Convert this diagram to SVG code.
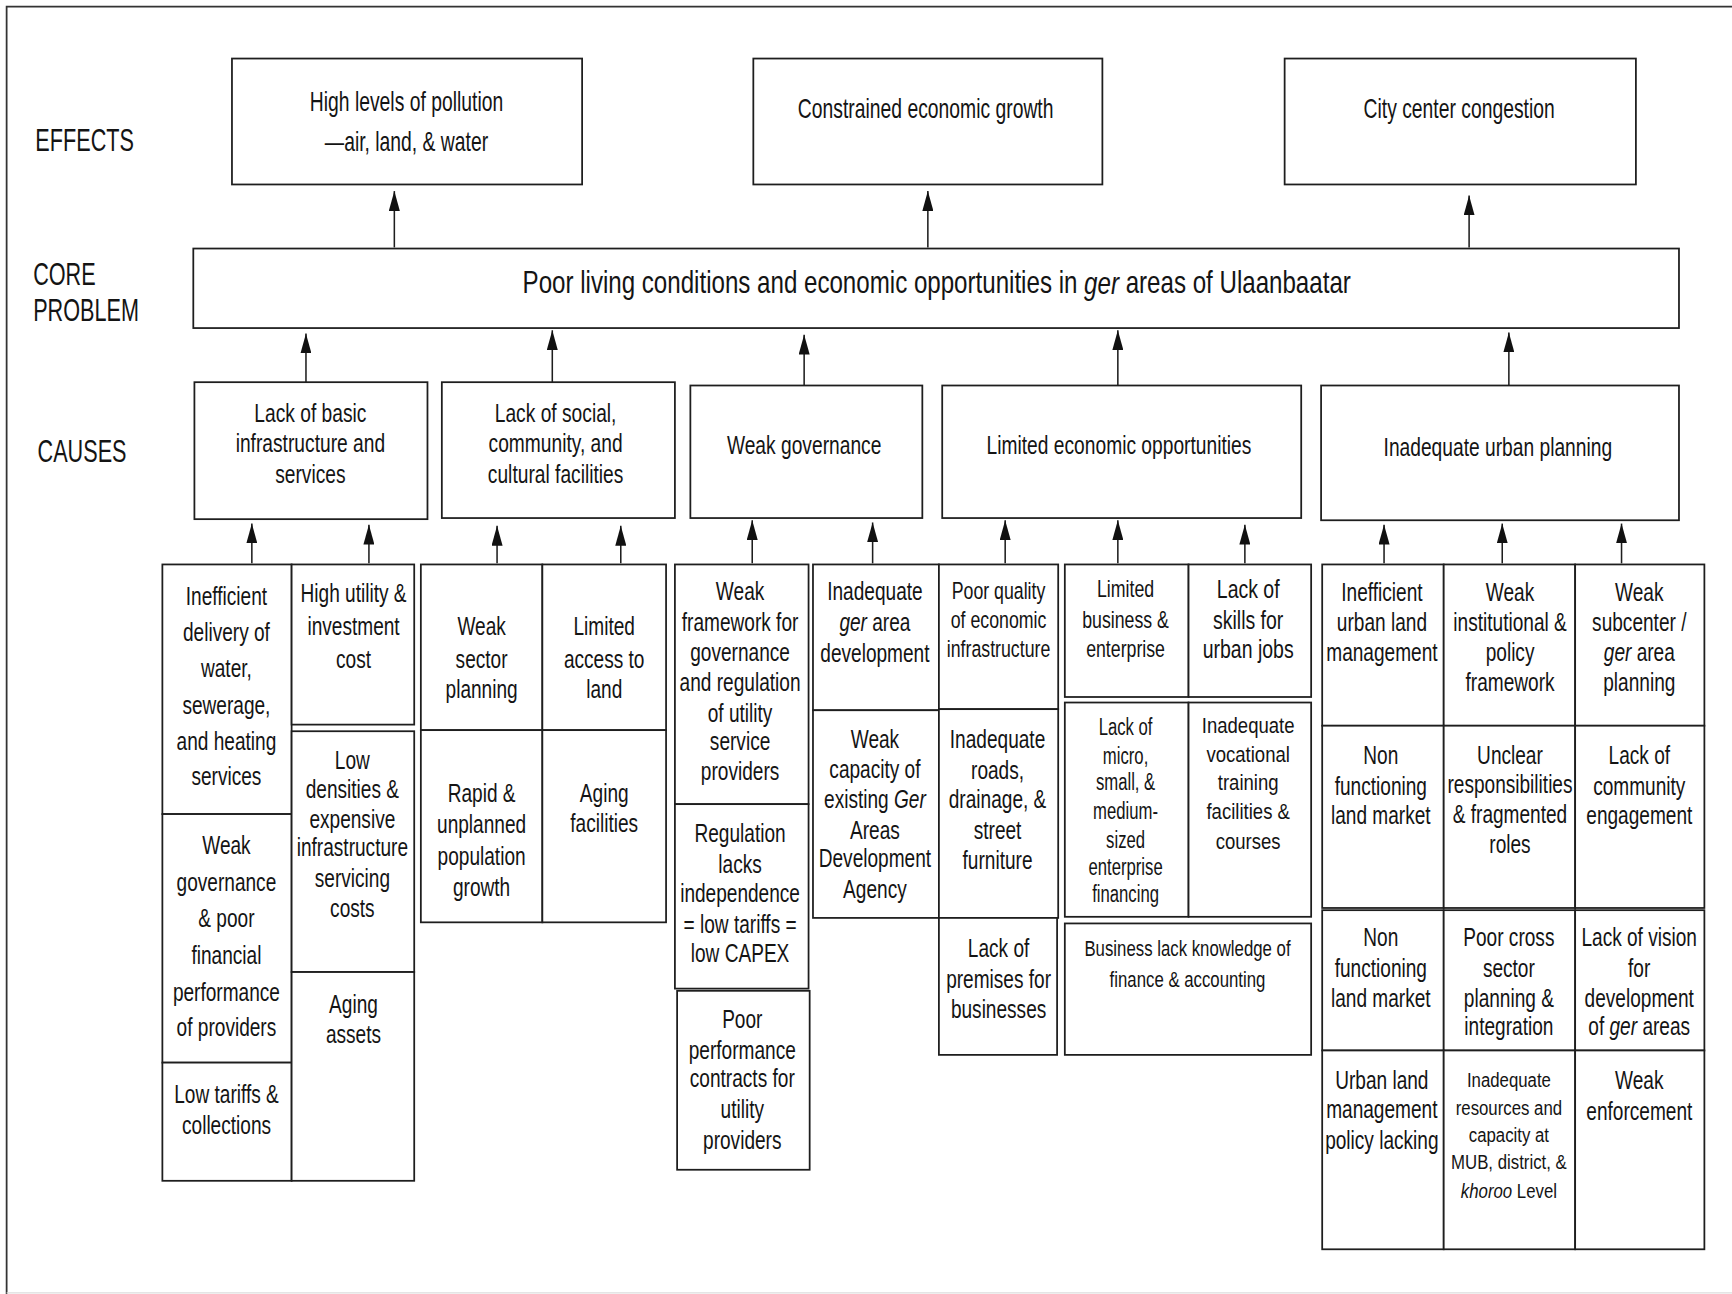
<svg xmlns="http://www.w3.org/2000/svg" width="1732" height="1294" viewBox="0 0 1732 1294">
<style>
.b{fill:#fff;stroke:#1e1e1e;stroke-width:1.6}
.t{font-family:"Liberation Sans",Arial,sans-serif;font-size:24px;text-anchor:middle;dominant-baseline:central;fill:#141414;transform-box:fill-box;transform-origin:50% 50%;transform:scaleX(0.72)}
.s{font-size:25px;transform:scaleX(0.70)}
.ca{font-size:23.5px;transform:scaleX(0.74)}
.s2{font-size:22px;transform:scaleX(0.73)}
.w2{font-size:22.6px;transform:scaleX(0.78)}
.d2a{font-size:21.6px;transform:scaleX(0.70)}
.d2b{font-size:20px;transform:scaleX(0.84)}
.d3{font-size:20px;transform:scaleX(0.76)}
.xs{font-size:19px;transform:scaleX(0.8)}
.lbl{font-family:"Liberation Sans",Arial,sans-serif;font-size:28px;fill:#141414;dominant-baseline:central;transform-box:fill-box;transform-origin:0% 50%;transform:scaleX(0.7)}
.c{stroke:#1e1e1e;stroke-width:1.4;fill:none}
.i{font-style:italic}
</style>
<defs>
<marker id="ah" viewBox="0 0 18 10" refX="18" refY="5" markerWidth="18" markerHeight="10" markerUnits="userSpaceOnUse" orient="auto">
<path d="M0,0 L18,5 L0,10 Z" fill="#111"/>
</marker>
</defs>
<rect x="0" y="0" width="1732" height="1294" fill="#fff"/>
<g transform="scale(1.10459)">
<path d="M6,1175 V6 H1570" fill="none" stroke="#333" stroke-width="1.6"/>
<path d="M6,1170.5 H1570" fill="none" stroke="#ddd" stroke-width="1.2"/>

<g id="labels">
<text class="lbl" x="32" y="127">EFFECTS</text>
<text class="lbl" x="30" y="249">CORE</text>
<text class="lbl" x="30" y="281">PROBLEM</text>
<text class="lbl" x="34" y="409">CAUSES</text>
</g>

<g id="effect-pollution"><rect class="b" x="210" y="53" width="317" height="114"/>
<text class="t s" x="368"><tspan x="368" y="91">High levels of pollution</tspan><tspan x="368" y="127">—air, land, &amp; water</tspan></text></g>
<g id="effect-growth"><rect class="b" x="682" y="53" width="316" height="114"/>
<text class="t s" x="838" y="98">Constrained economic growth</text></g>
<g id="effect-congestion"><rect class="b" x="1163" y="53" width="318" height="114"/>
<text class="t s" x="1321" y="98">City center congestion</text></g>

<g id="core"><rect class="b" x="175" y="225" width="1345" height="72"/>
<text class="t" style="font-size:28px;transform:scaleX(0.78)" x="848" y="256">Poor living conditions and economic opportunities in <tspan class="i">ger</tspan> areas of Ulaanbaatar</text></g>

<g id="cause-infra"><rect class="b" x="176" y="346" width="211" height="124"/>
<text class="t ca" x="281"><tspan x="281" y="374">Lack of basic</tspan><tspan x="281" y="401">infrastructure and</tspan><tspan x="281" y="429">services</tspan></text></g>
<g id="cause-social"><rect class="b" x="400" y="346" width="211" height="123"/>
<text class="t ca" x="503"><tspan x="503" y="374">Lack of social,</tspan><tspan x="503" y="401">community, and</tspan><tspan x="503" y="429">cultural facilities</tspan></text></g>
<g id="cause-governance"><rect class="b" x="625" y="349" width="210" height="120"/>
<text class="t ca" x="728" y="403">Weak governance</text></g>
<g id="cause-economic"><rect class="b" x="853" y="349" width="325" height="120"/>
<text class="t ca" x="1013" y="403">Limited economic opportunities</text></g>
<g id="cause-planning"><rect class="b" x="1196" y="349" width="324" height="122"/>
<text class="t ca" x="1356" y="405">Inadequate urban planning</text></g>

<g id="connectors">
<line class="c" x1="357" y1="224" x2="357" y2="173" marker-end="url(#ah)"/>
<line class="c" x1="840" y1="224" x2="840" y2="173" marker-end="url(#ah)"/>
<line class="c" x1="1330" y1="224" x2="1330" y2="177" marker-end="url(#ah)"/>
<line class="c" x1="277" y1="346" x2="277" y2="302" marker-end="url(#ah)"/>
<line class="c" x1="500" y1="346" x2="500" y2="299" marker-end="url(#ah)"/>
<line class="c" x1="728" y1="349" x2="728" y2="303" marker-end="url(#ah)"/>
<line class="c" x1="1012" y1="349" x2="1012" y2="299" marker-end="url(#ah)"/>
<line class="c" x1="1366" y1="349" x2="1366" y2="301" marker-end="url(#ah)"/>
<line class="c" x1="228" y1="510" x2="228" y2="474" marker-end="url(#ah)"/>
<line class="c" x1="334" y1="510" x2="334" y2="475" marker-end="url(#ah)"/>
<line class="c" x1="450" y1="510" x2="450" y2="476" marker-end="url(#ah)"/>
<line class="c" x1="562" y1="510" x2="562" y2="476" marker-end="url(#ah)"/>
<line class="c" x1="681" y1="510" x2="681" y2="471" marker-end="url(#ah)"/>
<line class="c" x1="790" y1="510" x2="790" y2="473" marker-end="url(#ah)"/>
<line class="c" x1="910" y1="510" x2="910" y2="471" marker-end="url(#ah)"/>
<line class="c" x1="1012" y1="510" x2="1012" y2="471" marker-end="url(#ah)"/>
<line class="c" x1="1127" y1="510" x2="1127" y2="475" marker-end="url(#ah)"/>
<line class="c" x1="1253" y1="510" x2="1253" y2="475" marker-end="url(#ah)"/>
<line class="c" x1="1360" y1="510" x2="1360" y2="474" marker-end="url(#ah)"/>
<line class="c" x1="1468" y1="510" x2="1468" y2="474" marker-end="url(#ah)"/>
</g>

<g id="a1a"><rect class="b" x="147" y="511" width="117" height="226"/>
<text class="t"><tspan x="205" y="539">Inefficient</tspan><tspan x="205" y="572">delivery of</tspan><tspan x="205" y="605">water,</tspan><tspan x="205" y="638">sewerage,</tspan><tspan x="205" y="671">and heating</tspan><tspan x="205" y="702">services</tspan></text></g>
<g id="a1b"><rect class="b" x="147" y="737" width="117" height="225"/>
<text class="t"><tspan x="205" y="765">Weak</tspan><tspan x="205" y="798">governance</tspan><tspan x="205" y="831">&amp; poor</tspan><tspan x="205" y="864">financial</tspan><tspan x="205" y="898">performance</tspan><tspan x="205" y="930">of providers</tspan></text></g>
<g id="a1c"><rect class="b" x="147" y="962" width="117" height="107"/>
<text class="t"><tspan x="205" y="990">Low tariffs &amp;</tspan><tspan x="205" y="1018">collections</tspan></text></g>
<g id="a2a"><rect class="b" x="264" y="511" width="111" height="145"/>
<text class="t"><tspan x="320" y="537">High utility &amp;</tspan><tspan x="320" y="567">investment</tspan><tspan x="320" y="596">cost</tspan></text></g>
<g id="a2b"><rect class="b" x="264" y="662" width="111" height="218"/>
<text class="t"><tspan x="319" y="688">Low</tspan><tspan x="319" y="714">densities &amp;</tspan><tspan x="319" y="741">expensive</tspan><tspan x="319" y="767">infrastructure</tspan><tspan x="319" y="795">servicing</tspan><tspan x="319" y="822">costs</tspan></text></g>
<g id="a2c"><rect class="b" x="264" y="880" width="111" height="189"/>
<text class="t"><tspan x="320" y="909">Aging</tspan><tspan x="320" y="936">assets</tspan></text></g>

<g id="b1a"><rect class="b" x="381" y="511" width="110" height="150"/>
<text class="t"><tspan x="436" y="567">Weak</tspan><tspan x="436" y="596">sector</tspan><tspan x="436" y="624">planning</tspan></text></g>
<g id="b1b"><rect class="b" x="381" y="661" width="110" height="174"/>
<text class="t"><tspan x="436" y="718">Rapid &amp;</tspan><tspan x="436" y="746">unplanned</tspan><tspan x="436" y="775">population</tspan><tspan x="436" y="803">growth</tspan></text></g>
<g id="b2a"><rect class="b" x="491" y="511" width="112" height="150"/>
<text class="t"><tspan x="547" y="567">Limited</tspan><tspan x="547" y="596">access to</tspan><tspan x="547" y="624">land</tspan></text></g>
<g id="b2b"><rect class="b" x="491" y="661" width="112" height="174"/>
<text class="t"><tspan x="547" y="718">Aging</tspan><tspan x="547" y="745">facilities</tspan></text></g>

<g id="c1a"><rect class="b" x="611" y="511" width="121" height="217"/>
<text class="t"><tspan x="670" y="535">Weak</tspan><tspan x="670" y="563">framework for</tspan><tspan x="670" y="590">governance</tspan><tspan x="670" y="617">and regulation</tspan><tspan x="670" y="645">of utility</tspan><tspan x="670" y="671">service</tspan><tspan x="670" y="698">providers</tspan></text></g>
<g id="c1b"><rect class="b" x="611" y="728" width="121" height="167"/>
<text class="t"><tspan x="670" y="754">Regulation</tspan><tspan x="670" y="782">lacks</tspan><tspan x="670" y="808">independence</tspan><tspan x="670" y="836">= low tariffs =</tspan><tspan x="670" y="863">low CAPEX</tspan></text></g>
<g id="c1c"><rect class="b" x="613" y="897" width="120" height="162"/>
<text class="t"><tspan x="672" y="922">Poor</tspan><tspan x="672" y="950">performance</tspan><tspan x="672" y="976">contracts for</tspan><tspan x="672" y="1004">utility</tspan><tspan x="672" y="1032">providers</tspan></text></g>
<g id="c2a"><rect class="b" x="736" y="511" width="114" height="132"/>
<text class="t"><tspan x="792" y="535">Inadequate</tspan><tspan x="792" y="563"><tspan class="i">ger</tspan> area</tspan><tspan x="792" y="591">development</tspan></text></g>
<g id="c2b"><rect class="b" x="736" y="643" width="114" height="188"/>
<text class="t"><tspan x="792" y="669">Weak</tspan><tspan x="792" y="696">capacity of</tspan><tspan x="792" y="723">existing <tspan class="i">Ger</tspan></tspan><tspan x="792" y="751">Areas</tspan><tspan x="792" y="777">Development</tspan><tspan x="792" y="805">Agency</tspan></text></g>
<g id="c3a"><rect class="b" x="850" y="511" width="108" height="131"/>
<text class="t s2"><tspan x="904" y="535">Poor quality</tspan><tspan x="904" y="561">of economic</tspan><tspan x="904" y="588">infrastructure</tspan></text></g>
<g id="c3b"><rect class="b" x="850" y="642" width="108" height="189"/>
<text class="t"><tspan x="903" y="669">Inadequate</tspan><tspan x="903" y="697">roads,</tspan><tspan x="903" y="723">drainage, &amp;</tspan><tspan x="903" y="751">street</tspan><tspan x="903" y="778">furniture</tspan></text></g>
<g id="c3c"><rect class="b" x="850" y="831" width="107" height="124"/>
<text class="t"><tspan x="904" y="858">Lack of</tspan><tspan x="904" y="886">premises for</tspan><tspan x="904" y="913">businesses</tspan></text></g>

<g id="d1a"><rect class="b" x="964" y="511" width="112" height="120"/>
<text class="t s2"><tspan x="1019" y="533">Limited</tspan><tspan x="1019" y="561">business &amp;</tspan><tspan x="1019" y="588">enterprise</tspan></text></g>
<g id="d1b"><rect class="b" x="1076" y="511" width="111" height="120"/>
<text class="t w2"><tspan x="1130" y="533">Lack of</tspan><tspan x="1130" y="561">skills for</tspan><tspan x="1130" y="588">urban jobs</tspan></text></g>
<g id="d2a"><rect class="b" x="964" y="636" width="112" height="194"/>
<text class="t d2a"><tspan x="1019" y="657">Lack of</tspan><tspan x="1019" y="683">micro,</tspan><tspan x="1019" y="707">small, &amp;</tspan><tspan x="1019" y="733">medium-</tspan><tspan x="1019" y="759">sized</tspan><tspan x="1019" y="784">enterprise</tspan><tspan x="1019" y="808">financing</tspan></text></g>
<g id="d2b"><rect class="b" x="1076" y="636" width="111" height="194"/>
<text class="t d2b"><tspan x="1130" y="657">Inadequate</tspan><tspan x="1130" y="683">vocational</tspan><tspan x="1130" y="708">training</tspan><tspan x="1130" y="735">facilities &amp;</tspan><tspan x="1130" y="762">courses</tspan></text></g>
<g id="d3"><rect class="b" x="964" y="836" width="223" height="119"/>
<text class="t d3"><tspan x="1075" y="858">Business lack knowledge of</tspan><tspan x="1075" y="886">finance &amp; accounting</tspan></text></g>

<g id="e1a"><rect class="b" x="1197" y="511" width="110" height="146"/>
<text class="t"><tspan x="1251" y="536">Inefficient</tspan><tspan x="1251" y="563">urban land</tspan><tspan x="1251" y="590">management</tspan></text></g>
<g id="e2a"><rect class="b" x="1307" y="511" width="119" height="146"/>
<text class="t"><tspan x="1367" y="536">Weak</tspan><tspan x="1367" y="563">institutional &amp;</tspan><tspan x="1367" y="590">policy</tspan><tspan x="1367" y="617">framework</tspan></text></g>
<g id="e3a"><rect class="b" x="1426" y="511" width="117" height="146"/>
<text class="t"><tspan x="1484" y="536">Weak</tspan><tspan x="1484" y="563">subcenter /</tspan><tspan x="1484" y="590"><tspan class="i">ger</tspan> area</tspan><tspan x="1484" y="617">planning</tspan></text></g>
<g id="e1b"><rect class="b" x="1197" y="657" width="110" height="165"/>
<text class="t"><tspan x="1250" y="683">Non</tspan><tspan x="1250" y="711">functioning</tspan><tspan x="1250" y="738">land market</tspan></text></g>
<g id="e2b"><rect class="b" x="1307" y="657" width="119" height="165"/>
<text class="t"><tspan x="1367" y="683">Unclear</tspan><tspan x="1367" y="710">responsibilities</tspan><tspan x="1367" y="737">&amp; fragmented</tspan><tspan x="1367" y="764">roles</tspan></text></g>
<g id="e3b"><rect class="b" x="1426" y="657" width="117" height="165"/>
<text class="t"><tspan x="1484" y="683">Lack of</tspan><tspan x="1484" y="711">community</tspan><tspan x="1484" y="738">engagement</tspan></text></g>
<g id="e1c"><rect class="b" x="1197" y="824" width="110" height="127"/>
<text class="t"><tspan x="1250" y="848">Non</tspan><tspan x="1250" y="876">functioning</tspan><tspan x="1250" y="903">land market</tspan></text></g>
<g id="e2c"><rect class="b" x="1307" y="824" width="119" height="127"/>
<text class="t"><tspan x="1366" y="848">Poor cross</tspan><tspan x="1366" y="876">sector</tspan><tspan x="1366" y="903">planning &amp;</tspan><tspan x="1366" y="929">integration</tspan></text></g>
<g id="e3c"><rect class="b" x="1426" y="824" width="117" height="127"/>
<text class="t"><tspan x="1484" y="848">Lack of vision</tspan><tspan x="1484" y="876">for</tspan><tspan x="1484" y="903">development</tspan><tspan x="1484" y="929">of <tspan class="i">ger</tspan> areas</tspan></text></g>
<g id="e1d"><rect class="b" x="1197" y="951" width="110" height="180"/>
<text class="t"><tspan x="1251" y="978">Urban land</tspan><tspan x="1251" y="1004">management</tspan><tspan x="1251" y="1032">policy lacking</tspan></text></g>
<g id="e2d"><rect class="b" x="1307" y="951" width="119" height="180"/>
<text class="t xs"><tspan x="1366" y="977">Inadequate</tspan><tspan x="1366" y="1002">resources and</tspan><tspan x="1366" y="1027">capacity at</tspan><tspan x="1366" y="1051">MUB, district, &amp;</tspan><tspan x="1366" y="1078"><tspan class="i">khoroo</tspan> Level</tspan></text></g>
<g id="e3d"><rect class="b" x="1426" y="951" width="117" height="180"/>
<text class="t"><tspan x="1484" y="978">Weak</tspan><tspan x="1484" y="1006">enforcement</tspan></text></g>
</g>
</svg>
